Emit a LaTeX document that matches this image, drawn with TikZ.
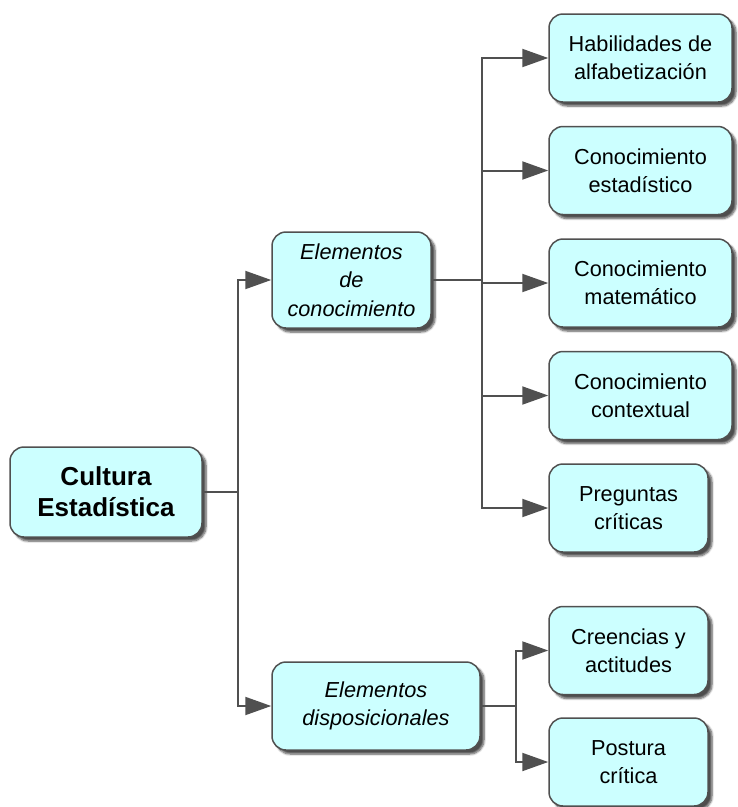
\documentclass[tikz,border=0pt]{standalone}
\usepackage{fontspec}
\setmainfont{Liberation Sans}
\usepackage{tikz}
\usetikzlibrary{arrows.meta,positioning,shadows.blur}
\usepackage{xcolor}
\definecolor{Aqua}{HTML}{CCFFFF}
\definecolor{Slate}{HTML}{505050}
\tikzset{
  box/.style={rounded corners=14pt, draw=Slate, fill=Aqua, line width=1.5pt, align=center, inner sep=4pt, minimum height=88pt, font=\fontsize{21.7}{28}\selectfont, blur shadow={shadow xshift=4pt, shadow yshift=-4pt, shadow blur steps=6, shadow opacity=70}},
  boxwide/.style={box, minimum width=183pt},
  boxnarrow/.style={box, minimum width=159pt},
  boxroot/.style={box, minimum width=192pt, minimum height=90pt, font=\bfseries\fontsize{26}{31}\selectfont},
  boxmid/.style={box, font=\itshape\fontsize{21.7}{28.5}\selectfont},
  link/.style={line width=2pt, draw=Slate},
  arrow/.style={link, -{Triangle[length=26pt, width=18pt]}}
}
\begin{document}
\begin{tikzpicture}[x=1pt, y=-1pt]
\useasboundingbox (0,0) rectangle (738,807);
% raiz
\node[boxroot] (root) at (106,492) {Cultura\\Estadística};
% segundo nivel
\node[boxmid, minimum width=159pt, minimum height=96pt] (ekn) at (351.5,280) {Elementos\\de\\conocimiento};
\node[boxmid, minimum width=208pt] (edisp) at (376,706) {Elementos\\disposicionales};
% hojas
\node[boxwide] (hab) at (640.5,58) {Habilidades de\\alfabetización};
\node[boxwide, below=23pt of hab] (est) {Conocimiento\\estadístico};
\node[boxwide, below=23pt of est] (mat) {Conocimiento\\matemático};
\node[boxwide, below=23pt of mat] (ctx) {Conocimiento\\contextual};
\node[boxnarrow, below=23pt of ctx.south west, anchor=north west] (preg) {Preguntas\\críticas};
\node[boxnarrow] (cre) at (628.5,650.5) {Creencias y\\actitudes};
\node[boxnarrow, below=22pt of cre] (pos) {Postura\\crítica};
% conectores
\draw[link] (root.east) -- ++(35,0) coordinate (j1);
\draw[arrow] (j1) |- (ekn.west);
\draw[arrow] (j1) |- (edisp.west);
\draw[link] (ekn.east) -- ++(50,0) coordinate (j2);
\foreach \leaf in {hab,est,mat,ctx,preg}
  \draw[arrow] (j2) |- (\leaf.west);
\draw[link] (edisp.east) -- ++(35,0) coordinate (j3);
\draw[arrow] (j3) |- (cre.west);
\draw[arrow] (j3) |- (pos.west);
\end{tikzpicture}
\end{document}
